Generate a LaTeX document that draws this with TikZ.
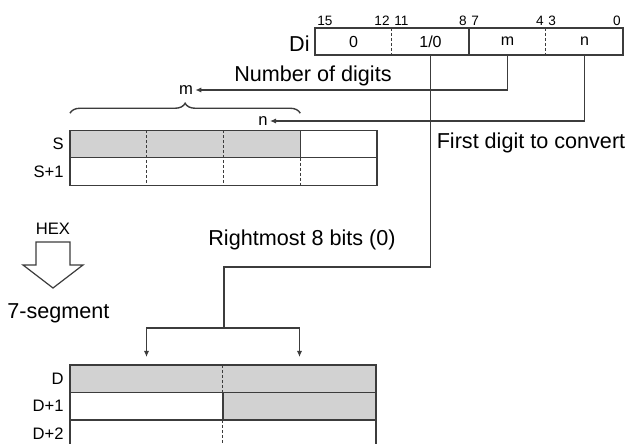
\documentclass[tikz,border=0pt]{standalone}
\usepackage{fontspec}
\setmainfont{Liberation Sans}
\usepackage{tikz}
\usetikzlibrary{positioning, arrows.meta, calc, decorations.pathreplacing}
\definecolor{linegray}{HTML}{3C3C3C}
\definecolor{dotgray}{HTML}{D2D2D2}

\tikzset{
  field/.style={minimum width=38.5pt, minimum height=13.5pt, inner sep=0pt, outer sep=0pt,
                font=\fontsize{8}{9}\selectfont},
  bitno/.style={inner sep=1pt, font=\fontsize{6.8}{8}\selectfont},
  cell/.style={minimum width=38.375pt, minimum height=13.75pt, inner sep=0pt, outer sep=0pt},
  rowlabel/.style={inner sep=1pt, font=\fontsize{8.3}{10}\selectfont},
  note/.style={inner sep=0pt, font=\fontsize{10.8}{13}\selectfont},
  wire/.style={draw=linegray, line width=0.7pt},
  conn/.style={wire, -{Latex[length=3pt, width=2.6pt]}},
  divider/.style={draw=linegray, line width=0.5pt, dash pattern=on 1.5pt off 1pt},
}

\begin{document}
\begin{tikzpicture}[x=0.5pt, y=-0.5pt]
  \clip (0,0) rectangle (629,444);

  % Di word
  \node[field] (dz) at (353.5,41.5) {0};
  \node[field, right=0pt of dz] (dio) {1/0};
  \node[field, right=0pt of dio] (dm) {m};
  \node[field, right=0pt of dm] (dn) {n};
  \draw[wire] (dz.north west) rectangle (dn.south east);
  \draw[divider] (dz.north east) -- (dz.south east);
  \draw[wire] (dio.north east) -- (dio.south east);
  \draw[divider] (dm.north east) -- (dm.south east);
  \node[note, left=2.5pt of dz, yshift=-1pt] (di) {Di};

  \node[bitno, anchor=south west] (b15) at (dz.north west) {15};
  \node[bitno, anchor=south east] (b12) at (dz.north east) {12};
  \node[bitno, anchor=south west] (b11) at (dio.north west) {11};
  \node[bitno, anchor=south east] (b8) at (dio.north east) {8};
  \node[bitno, anchor=south west] (b7) at (dm.north west) {7};
  \node[bitno, anchor=south east] (b4) at (dm.north east) {4};
  \node[bitno, anchor=south west] (b3) at (dn.north west) {3};
  \node[bitno, anchor=south east] (b0) at (dn.north east) {0};

  % m and n
  \node[rowlabel] (mlab) at (186,90) {m};
  \node[rowlabel] (nlab) at (263,121) {n};
  \draw[conn] (dm.south) |- (mlab.east);
  \draw[conn] (dn.south) |- (nlab.east);
  \node[note] (ndig) at (313,76) {Number of digits};
  \node[note] (first) at (531,143) {First digit to convert};

  % S words
  \foreach \i in {1,...,4} {
    \node[cell] (s\i) at ({70+76.75*\i-38.375},144) {};
    \node[cell, below=0pt of s\i] (t\i) {};
  }
  \fill[dotgray] (s1.north west) rectangle (s3.south east);
  \draw[wire] (s1.north west) rectangle (t4.south east);
  \draw[wire] (s1.south west) -- (s4.south east);
  \draw[wire] (s3.north east) -- (s3.south east);
  \draw[divider] (s1.north east) -- (t1.south east);
  \draw[divider] (s2.north east) -- (t2.south east);
  \draw[divider] (t3.north east) -- (t3.south east);
  \node[rowlabel, left=2pt of s1] (slab) {S};
  \node[rowlabel, left=2pt of t1] (s1lab) {S+1};
  \draw[wire, decorate, decoration={brace, amplitude=5pt}]
    ([yshift=8.5pt]s1.north west) -- ([yshift=8.5pt]s3.north east);

  % conversion arrow
  \node[rowlabel] (hex) at (53,229) {HEX};
  \draw[wire, line width=0.6pt] (36,242) -- (70,242) -- (70,265) -- (83,265)
    -- (53,288) -- (23,265) -- (36,265) -- cycle;
  \node[note, anchor=west] (seg) at (7,313) {7-segment};

  % D words
  \foreach \i in {1,2} {
    \node[cell, minimum width=76.5pt] (d\i) at ({70+153*\i-76.5},378.75) {};
    \node[cell, minimum width=76.5pt, below=0pt of d\i] (e\i) {};
    \node[cell, minimum width=76.5pt, below=0pt of e\i] (f\i) {};
  }
  \fill[dotgray] (d1.north west) rectangle (d2.south east);
  \fill[dotgray] (e2.north west) rectangle (e2.south east);
  \draw[wire] (d1.north west) rectangle (f2.south east);
  \draw[wire] (e1.north west) -- (e2.north east);
  \draw[wire] (f1.north west) -- (f2.north east);
  \draw[wire] (e1.north east) -- (e1.south east);
  \draw[divider] (d1.north east) -- (d1.south east);
  \draw[divider] (f1.north east) -- (f1.south east);
  \node[rowlabel, left=2pt of d1] (dlab) {D};
  \node[rowlabel, left=2pt of e1] (d1lab) {D+1};
  \node[rowlabel, left=2pt of f1] (d2lab) {D+2};

  % 1/0 selects the rightmost 8 bits
  \coordinate (bend) at (224,267);
  \coordinate (split) at (224,328);
  \draw[wire] (dio.south) |- (bend) -- (split);
  \node[note] (right8) at (302,240) {Rightmost 8 bits (0)};
  \draw[conn, shorten >=4pt] (split) -| (d1.north);
  \draw[conn, shorten >=4pt] (split) -| (d2.north);
\end{tikzpicture}
\end{document}
